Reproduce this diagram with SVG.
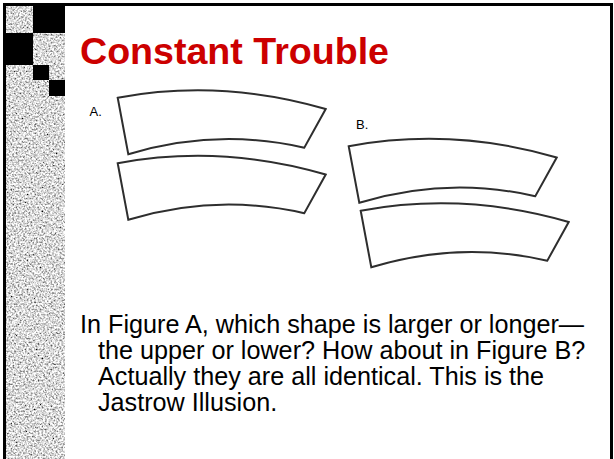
<svg xmlns="http://www.w3.org/2000/svg" width="614" height="459" viewBox="0 0 614 459">
<defs>
<style>
.title{font-family:"Liberation Sans",Arial,sans-serif;font-weight:bold;font-size:37.6px;fill:#CC0000}
.body{font-family:"Liberation Sans",Arial,sans-serif;font-size:25.2px;fill:#000}
.lbl{font-family:"Liberation Sans",Arial,sans-serif;font-size:13px;fill:#000}
.shape{fill:#fff;stroke:#2e2e2e;stroke-width:2;stroke-linejoin:miter}
</style>
<filter id="noise" x="0" y="0" width="100%" height="100%" filterUnits="objectBoundingBox">
<feTurbulence type="fractalNoise" baseFrequency="0.55" numOctaves="2" seed="7" result="t"/>
<feColorMatrix in="t" type="matrix" values="2 0 0 0 -0.3  2 0 0 0 -0.3  2 0 0 0 -0.3  0 0 0 0 1"/>
</filter>
<path id="jastrow" class="shape" d="M117.7,97.7 Q221.7,78.6 325.7,109 L304.3,147.7 Q216.3,127.6 128.3,154.3 Z"/>
</defs>
<rect width="614" height="459" fill="#fff"/>
<g id="sidebar">
<rect x="6" y="6" width="59" height="453" fill="#a8a8a8" filter="url(#noise)"/>
<rect x="33" y="6" width="32" height="27" fill="#000"/>
<rect x="4" y="33" width="29" height="32" fill="#000"/>
<rect x="33" y="65" width="16" height="15" fill="#000"/>
<rect x="49" y="80" width="16" height="16" fill="#000"/>
</g>
<path id="frame" d="M4.5,459 V4.5 H611.5 V459" fill="none" stroke="#000" stroke-width="3"/>
<text id="title" class="title" x="80" y="64">Constant Trouble</text>
<g id="figA">
<text class="lbl" x="89.5" y="116">A.</text>
<use href="#jastrow"/>
<use href="#jastrow" transform="translate(0,65.5)"/>
</g>
<g id="figB">
<text class="lbl" x="356" y="128.5">B.</text>
<use href="#jastrow" transform="translate(231,48.5)"/>
<use href="#jastrow" transform="translate(243,113)"/>
</g>
<g id="connectors"/>
<g id="caption" class="body">
<text x="80" y="333">In Figure A, which shape is larger or longer—</text>
<text x="98" y="359">the upper or lower? How about in Figure B?</text>
<text x="98" y="385">Actually they are all identical. This is the</text>
<text x="98" y="411">Jastrow Illusion.</text>
</g>
</svg>
